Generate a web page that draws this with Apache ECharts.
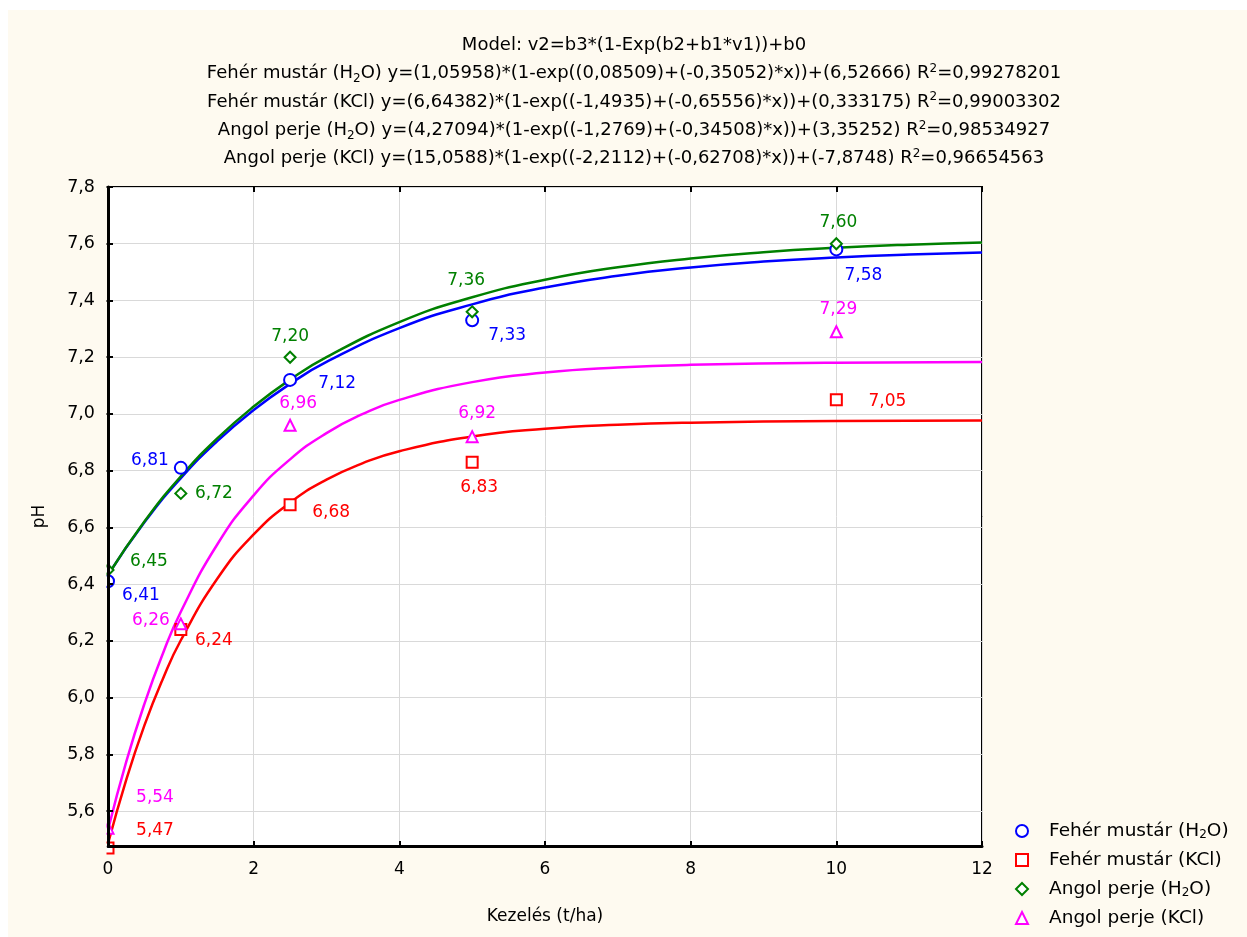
<!DOCTYPE html>
<html><head><meta charset="utf-8">
<script src="https://cdn.jsdelivr.net/npm/echarts@6/dist/echarts.min.js"></script>
<style>
html,body{margin:0;padding:0;background:#fff;}
#bg{position:absolute;left:8px;top:10px;right:0;bottom:0;background:#fefaf0;}
#chart{position:absolute;left:0;top:0;width:1247px;height:937px;}
</style></head><body><div id="bg"></div><div id="chart"></div>
<script>
// ---- data ----
const seriesNames = ['Fehér mustár (H2O)', 'Fehér mustár (KCl)', 'Angol perje (H2O)', 'Angol perje (KCl)'];
const doses = [0, 1, 2.5, 5, 10];
const feherH2O = [6.41, 6.81, 7.12, 7.33, 7.58];
const feherKCl = [5.47, 6.24, 6.68, 6.83, 7.05];
const angolH2O = [6.45, 6.72, 7.20, 7.36, 7.60];
const angolKCl = [5.54, 6.26, 6.96, 6.92, 7.29];

const fitXH2O = [0, 0.5, 1, 1.5, 2, 2.5, 3, 4, 5, 6, 7, 8, 9, 10, 11, 12];
const fitFeherH2O = [6.4326, 6.6180, 6.7737, 6.9043, 7.0140, 7.1059, 7.1832, 7.3024, 7.3863, 7.4455, 7.4871, 7.5164, 7.5371, 7.5516, 7.5619, 7.5691];
const fitAngolH2O = [6.4323, 6.6211, 6.7799, 6.9136, 7.0260, 7.1208, 7.2002, 7.3236, 7.4112, 7.4731, 7.5171, 7.5481, 7.5701, 7.5856, 7.5967, 7.6045];
const fitXKCl = [0, 0.25, 0.5, 0.75, 1, 1.5, 2, 2.5, 3, 3.5, 4, 5, 6, 7, 8, 10, 12];
const fitFeherKCl = [5.4848, 5.7101, 5.9021, 6.0642, 6.2023, 6.4189, 6.5751, 6.6873, 6.7682, 6.8266, 6.8687, 6.9207, 6.9478, 6.9619, 6.9691, 6.9749, 6.9765];
const fitAngolKCl = [5.5336, 5.7736, 5.9782, 6.1532, 6.3027, 6.5398, 6.7131, 6.8399, 6.9325, 7.0001, 7.0497, 7.1122, 7.1457, 7.1635, 7.1731, 7.1809, 7.1831];

const yTicks = [5.6, 5.8, 6.0, 6.2, 6.4, 6.6, 6.8, 7.0, 7.2, 7.4, 7.6, 7.8];

const titleLines = [
  'Model: v2=b3*(1-Exp(b2+b1*v1))+b0',
  'Fehér mustár (H{sub|2}O) y=(1,05958)*(1-exp((0,08509)+(-0,35052)*x))+(6,52666) R{sup|2}=0,99278201',
  'Fehér mustár (KCl) y=(6,64382)*(1-exp((-1,4935)+(-0,65556)*x))+(0,333175) R{sup|2}=0,99003302',
  'Angol perje (H{sub|2}O) y=(4,27094)*(1-exp((-1,2769)+(-0,34508)*x))+(3,35252) R{sup|2}=0,98534927',
  'Angol perje (KCl) y=(15,0588)*(1-exp((-2,2112)+(-0,62708)*x))+(-7,8748) R{sup|2}=0,96654563'
];

// ---- styling (not data) ----
const colors = ['#0000ff', '#ff0000', '#008000', '#ff00ff'];
const symbols = ['circle', 'rect', 'diamond', 'triangle'];
const symbolSizes = [12, 11, 11, 11];
const labelOffsets = [
  [[33, 14], [-31, -7], [47, 4], [35, 15], [27, 26]],
  [[47, -17], [33, 11], [41, 8], [7, 25], [51, 2]],
  [[41, -8], [33, 0], [0, -21], [-6, -31], [2, -21]],
  [[47, -31], [-30, -3], [8, -22], [5, -23], [2, -22]]
];
const FONT = '"DejaVu Sans", "Liberation Sans", Arial, sans-serif';
const yMin = 5.477, yMax = 7.8;

const scatterValues = [feherH2O, feherKCl, angolH2O, angolKCl];
const fitSets = [[fitXH2O, fitFeherH2O], [fitXKCl, fitFeherKCl], [fitXH2O, fitAngolH2O], [fitXKCl, fitAngolKCl]];

const fmtComma = (v, d) => v.toFixed(d).replace('.', ',');
const richName = n => n.replace('H2O', 'H{s|2}O');

const series = [];
fitSets.forEach((fs, i) => {
  series.push({
    name: seriesNames[i] + ' fit', type: 'line', smooth: true, showSymbol: false, silent: true,
    data: fs[0].map((x, k) => [x, fs[1][k]]),
    lineStyle: { color: colors[i], width: 2.5 }, z: 2, clip: true
  });
});
scatterValues.forEach((vals, i) => {
  series.push({
    name: seriesNames[i], type: 'scatter', clip: false, z: 3,
    symbol: symbols[i], symbolSize: symbolSizes[i],
    itemStyle: { color: '#ffffff', borderColor: colors[i], borderWidth: 2, opacity: 1 },
    data: doses.map((x, k) => ({
      value: [x, vals[k]],
      label: { offset: labelOffsets[i][k] }
    })),
    label: {
      show: true, position: 'inside', color: colors[i], fontSize: 17, fontFamily: FONT,
      formatter: p => fmtComma(p.value[1], 2)
    }
  });
});

const titleGraphics = titleLines.map((t, i) => ({
  type: 'text', x: 634, y: 45.5 + i * 28.3, silent: true,
  style: {
    text: t, fontSize: 18, fontFamily: FONT, fill: '#000', align: 'center', verticalAlign: 'middle', lineHeight: 22,
    rich: {
      sub: { fontSize: 12, fontFamily: FONT, verticalAlign: 'bottom', lineHeight: 22 },
      sup: { fontSize: 12, fontFamily: FONT, verticalAlign: 'top', lineHeight: 22 }
    }
  }
}));
// strip left of the plot frame, so markers at x=0 look clipped like the original
titleGraphics.push({
  type: 'rect', z: 50, silent: true,
  shape: { x: 96, y: 180, width: 10.5, height: 680 },
  style: { fill: '#fefaf0' }
});

const chart = echarts.init(document.getElementById('chart'), null, { renderer: 'canvas' });
chart.setOption({
  backgroundColor: 'transparent',
  animation: false,
  textStyle: { fontFamily: FONT },
  graphic: titleGraphics,
  grid: { left: 108, right: 265, top: 187, bottom: 91, show: true, backgroundColor: '#ffffff', borderColor: '#000', borderWidth: 2, containLabel: false },
  legend: {
    data: seriesNames, orient: 'vertical', left: 1015, top: 821, padding: 0,
    itemWidth: 12, itemHeight: 12, itemGap: 9,
    itemStyle: { borderWidth: 2 },
    formatter: n => '{p| }' + richName(n),
    textStyle: {
      fontSize: 18.5, fontFamily: FONT, color: '#000', lineHeight: 20,
      rich: {
        p: { width: 16 },
        s: { fontSize: 12, fontFamily: FONT, verticalAlign: 'bottom', lineHeight: 20 }
      }
    }
  },
  xAxis: [{
    type: 'value', min: 0, max: 12, interval: 2, position: 'bottom', z: 10,
    name: 'Kezelés (t/ha)', nameLocation: 'middle', nameGap: 62,
    nameTextStyle: { fontSize: 17, fontFamily: FONT, color: '#000' },
    axisLine: { show: true, lineStyle: { color: '#000', width: 3 } },
    axisTick: { show: true, inside: true, length: 5, lineStyle: { color: '#000', width: 2 } },
    axisLabel: { fontSize: 17, fontFamily: FONT, color: '#000', margin: 15 },
    splitLine: { show: false }
  }, {
    type: 'value', min: 0, max: 12, interval: 2, position: 'top', z: 0,
    axisLine: { show: false },
    axisTick: { show: true, inside: true, length: 5, lineStyle: { color: '#000', width: 2 } },
    axisLabel: { show: false },
    splitLine: { show: true, lineStyle: { color: '#d9d9d9', width: 1 } }
  }],
  yAxis: [{
    type: 'value', min: yMin, max: yMax, position: 'left', z: 10,
    name: 'pH', nameLocation: 'middle', nameGap: 60, nameRotate: 90,
    nameTextStyle: { fontSize: 17, fontFamily: FONT, color: '#000' },
    axisLine: { show: true, lineStyle: { color: '#000', width: 3 } },
    axisTick: { show: true, inside: true, length: 5, customValues: yTicks, lineStyle: { color: '#000', width: 2 } },
    axisLabel: { fontSize: 17.5, fontFamily: FONT, color: '#000', margin: 13, customValues: yTicks, formatter: v => fmtComma(v, 1) },
    splitLine: { show: false }
  }, {
    type: 'value', min: yMin, max: yMax, position: 'right', z: 0,
    axisLine: { show: false },
    axisTick: { show: true, inside: true, length: 5, customValues: yTicks, lineStyle: { color: '#000', width: 2 } },
    axisLabel: { show: false },
    splitLine: { show: true, lineStyle: { color: '#d9d9d9', width: 1 } }
  }],
  series: series
});
</script></body></html>
